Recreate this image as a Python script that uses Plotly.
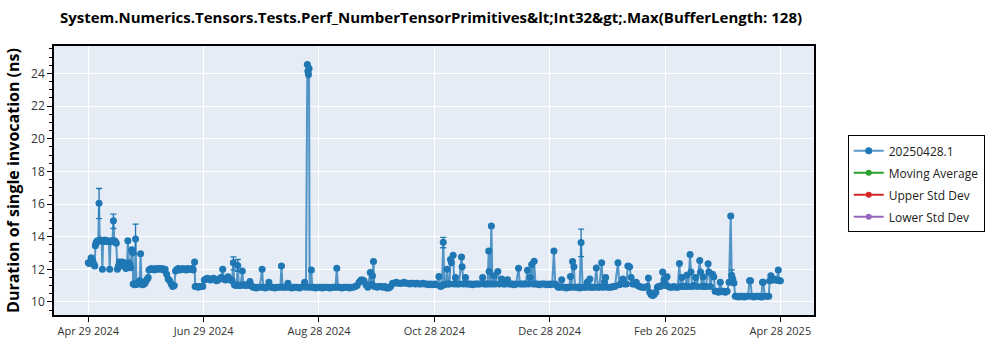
import pandas as pd
import plotly.graph_objects as go

TITLE = "System.Numerics.Tensors.Tests.Perf_NumberTensorPrimitives&amp;lt;Int32&amp;gt;.Max(BufferLength: 128)"
Y_TITLE = "Duration of single invocation (ns)"
START = "2024-04-29 10:00"

# day offsets from START and measured durations (ns)
days = [
    0, 0.5, 1, 1.5, 2, 2.5, 3, 3.4,
    3.7, 4.0, 4.4, 4.8, 5.2, 5.65, 6.0, 6.5, 7.0, 7.4, 7.8, 8.3, 8.8, 9.3, 9.8, 10.3, 10.8, 11.25,
    11.7, 12.2, 12.7, 13.2, 13.7, 14.2, 14.7, 15.3,
    15.8, 16.3, 16.8, 17.3, 17.8, 18.3, 18.8, 19.3, 19.8, 20.3, 20.8, 21.3, 21.8, 22.3, 22.8, 23.3, 23.6,
    24.0, 24.4, 24.85, 25.3, 25.8, 26.4, 27.0, 27.5, 28.0, 28.6, 29.2, 29.8, 30.4, 31.0, 31.5,
    31.9, 32.5, 33.2, 34.0, 34.8, 35.6, 36.4, 37.2, 38.0, 38.8, 39.6, 40.4,
    41.2, 42.0, 42.8, 43.6, 44.4, 45.2,
    45.9, 46.6, 47.4, 48.2, 49.0, 49.8, 50.6, 51.4, 52.2, 53.0, 53.8, 54.6, 55.2, 55.9,
    56.2, 57.0, 57.8, 58.6, 59.4, 60.2,
    61.0, 61.8, 62.6, 63.4, 64.2, 65.0, 65.8, 66.6, 67.4, 68.2, 69.0, 69.8, 70.7, 71.4, 72.2, 73.0, 73.5, 74.2, 75.0, 75.6,
    76.3, 76.8, 77.5, 78.0, 78.6, 79.2, 80.0, 81.0, 81.6, 82.4, 83.2, 84.0, 85.0, 85.8,
    86.6, 87.5, 88.4, 89.3, 90.2, 91.4, 92.0, 93.0, 94.0, 95.0, 96.0, 97.0, 98.0, 99.0, 100.0, 101.0, 101.6,
    102.2, 103.2, 104.2, 105.0, 106.0, 107.0, 108.0, 109.0, 110.0, 111.0, 112.0, 113.0, 113.8, 114.5,
    115.2, 115.5, 115.8, 116.1, 116.4, 117.3, 117.8, 118.6, 119.5, 120.4, 121.3, 122.2, 123.1, 124.0,
    125.0, 126.0, 127.0, 128.0, 129.0, 130.0, 130.7, 131.4, 132.4, 133.4, 134.4, 135.4, 136.4, 137.4,
    138.4, 139.4, 140.4, 141.4, 142.4, 143.4, 144.2, 145.0, 146.0, 147.0, 148.3, 149.0, 149.5, 150.0,
    150.4, 151.2, 152.0, 153.0, 154.0, 155.0, 156.0, 157.0, 158.0, 159.0,
    160, 161, 162, 163, 164, 165, 166, 167, 168, 169, 170, 171, 172, 173, 174, 175, 176, 177, 178, 179,
    180, 181, 182, 183, 184.4, 185.3, 186.0, 186.7, 187.3, 188.0, 188.7, 189.4, 190.0, 190.5, 191.0,
    191.9, 192.5, 193.1, 194.0, 195.0, 196.3, 196.6, 197.3, 198.4, 199.0, 200.0, 201.0, 202.0, 203.0,
    204.0, 205.0, 206.0, 207.4, 208.2, 209.0, 210.0, 210.6, 210.8, 211.3, 212.0, 212.6, 213.2, 214.0,
    215.4, 216.2, 217.5, 218.3, 219.3, 220.5, 221.3, 222.2, 223.1, 224.0, 225.0, 226.3, 227.0, 228.0,
    229.0, 230.0, 231.0, 231.7, 232.4, 233.2, 234.0, 234.5, 235.2, 236.2, 237.2, 238.2, 239.2, 240.2,
    241.2, 242.2, 243.2, 244.0, 244.9, 245.6, 246.4, 247.2, 248.0, 249.0, 249.8, 250.6, 251.4, 252.2,
    253.0, 253.6, 254.2, 254.7, 255.4, 256.0, 256.8, 257.6, 258.4, 259.2, 260.0, 260.8, 261.6, 262.4,
    263.2, 263.8, 264.6, 265.4, 266.2, 267.2, 268.0, 268.8, 270.0, 270.8, 271.5, 272.1, 273.0, 274.0,
    275.0, 276.0, 277.0, 278.6, 279.3, 280.0, 281.2, 282.0, 283.0, 283.8, 284.7, 285.5, 286.3, 287.2,
    288.2, 289.0, 290.0, 291.0, 292.0, 293.0, 294.0, 294.6, 295.3, 296.0, 296.8, 297.6, 298.5, 299.3,
    300.0, 300.8, 301.5, 302.1, 302.8, 303.5, 304.4, 305.2, 306.0, 307.0, 308.0, 309.0, 310.0, 310.9,
    311.5, 312.2, 313.0, 314.0, 314.8, 315.6, 316.5, 317.0, 317.6, 318.5, 319.4, 320.2, 321.6, 322.0,
    322.7, 323.4, 324.2, 325.0, 326.0, 326.4, 327.2, 328.3, 329.0, 329.7, 330.6, 331.5, 332.4, 333.2,
    334.0, 335.0, 336.0, 337.0, 337.9, 338.4, 339.0, 339.6, 340.3, 341.2, 342.1, 343.0, 344.0, 345.0,
    346.0, 347.0, 347.8, 348.3, 349.0, 350.0, 351.0, 352.0, 353.0, 354.0, 354.6, 355.0, 355.8, 356.8,
    357.9, 358.4, 359.0, 359.8, 360.6, 361.4, 362.2, 362.9, 363.4, 364.0,
]
values = [
    12.4, 12.35, 12.45, 12.7, 12.6, 12.45, 12.3, 12.2,
    13.45, 13.6, 13.7, 13.75, 13.7, 16.05, 13.75, 13.8, 13.75, 12.0, 13.75, 13.7, 13.8, 13.75, 13.7, 13.75, 13.7, 12.0,
    13.7, 13.75, 13.7, 14.97, 13.75, 13.7, 13.6, 12.0,
    12.2, 12.45, 12.4, 12.2, 12.45, 12.35, 12.4, 12.3, 12.05, 12.2, 13.75, 12.4, 12.3, 12.1, 13.2, 13.0, 11.1,
    11.1, 11.05, 13.85, 11.1, 11.1, 11.1, 11.3, 12.95, 11.2, 11.05, 11.1, 11.15, 11.3, 11.4, 11.5,
    11.95, 12.0, 12.05, 12.0, 11.95, 12.05, 12.0, 12.05, 12.0, 12.05, 11.95, 12.0,
    11.7, 11.4, 11.3, 11.1, 10.95, 11.0,
    11.9, 12.0, 12.05, 11.95, 12.0, 12.05, 12.0, 11.95, 12.05, 12.0, 12.0, 12.05, 11.95, 12.45,
    10.95, 10.95, 10.9, 10.95, 10.95, 10.95,
    11.35, 11.4, 11.45, 11.4, 11.35, 11.4, 11.45, 11.4, 11.3, 11.35, 11.4, 11.5, 12.0, 11.4, 11.35, 11.45, 11.55, 11.4, 11.35, 11.3,
    12.4, 11.05, 11.0, 11.05, 12.24, 11.0, 11.0, 11.9, 11.05, 11.0, 11.05, 11.0, 11.25, 11.0,
    10.9, 10.9, 10.85, 10.9, 10.9, 12.0, 10.9, 10.85, 10.9, 11.2, 10.9, 10.9, 10.85, 10.9, 10.9, 10.9, 12.2,
    10.9, 10.9, 10.9, 11.15, 10.9, 10.85, 10.9, 10.9, 10.9, 10.85, 10.9, 10.95, 11.2, 10.9,
    24.54, 24.14, 23.94, 24.3, 10.9, 11.95, 10.9, 10.9, 10.85, 10.9, 10.9, 10.9, 10.85, 10.9,
    10.9, 10.9, 10.85, 10.9, 10.9, 10.9, 12.06, 10.9, 10.9, 10.85, 10.9, 10.9, 10.9, 10.85,
    10.9, 10.9, 10.95, 11.0, 11.2, 11.35, 11.35, 11.3, 11.05, 10.9, 11.8, 11.1, 11.6, 12.48,
    10.95, 10.95, 10.9, 10.95, 10.95, 10.9, 10.95, 10.85, 10.85, 10.95,
    11.15, 11.15, 11.2, 11.15, 11.15, 11.15, 11.2, 11.15, 11.15, 11.1, 11.15, 11.15, 11.1, 11.15, 11.1, 11.1, 11.15, 11.1, 11.1, 11.05,
    11.1, 11.05, 11.1, 11.05, 11.56, 10.95, 11.0, 13.66, 11.05, 11.1, 12.0, 11.1, 11.1, 12.6, 12.4,
    12.86, 11.1, 11.5, 11.1, 11.1, 12.76, 12.16, 11.1, 11.5, 11.1, 11.1, 11.1, 11.05, 11.1,
    11.1, 11.1, 11.1, 11.5, 11.1, 11.1, 11.1, 13.12, 11.86, 11.1, 14.65, 11.1, 11.6, 11.1,
    11.86, 11.1, 11.4, 11.1, 11.1, 11.36, 11.1, 11.1, 11.1, 11.05, 11.1, 12.06, 11.1, 11.1,
    11.1, 11.1, 11.94, 11.1, 11.5, 12.3, 11.1, 12.5, 11.1, 11.1, 11.05, 11.1, 11.1, 11.1,
    11.05, 11.1, 11.05, 11.1, 13.12, 11.1, 11.0, 10.9, 10.9, 11.36, 10.9, 10.9, 10.85, 10.9,
    10.9, 11.56, 10.9, 12.48, 12.16, 10.9, 10.9, 10.9, 10.85, 13.64, 10.9, 10.9, 10.9, 11.2,
    10.9, 11.4, 10.9, 10.9, 10.9, 12.08, 10.9, 10.9, 12.4, 10.9, 11.2, 11.5, 10.9, 10.9,
    10.9, 10.95, 10.95, 12.4, 11.05, 11.1, 11.4, 11.1, 11.1, 12.2, 12.16, 11.5, 11.1, 11.1,
    11.2, 11.0, 10.95, 10.9, 10.9, 10.9, 10.95, 11.46, 10.6, 10.45, 10.4, 10.45, 10.6, 10.9,
    10.95, 10.95, 11.0, 11.84, 11.36, 11.0, 11.54, 10.95, 10.9, 10.9, 10.95, 10.9, 10.9, 12.36,
    10.95, 11.5, 10.95, 10.95, 11.64, 10.95, 12.9, 11.84, 10.95, 11.0, 11.5, 10.95, 12.54, 11.84,
    10.95, 11.54, 10.95, 10.95, 12.34, 11.84, 10.95, 11.7, 11.54, 10.65, 10.65, 10.6, 11.2, 10.65,
    10.65, 10.6, 10.65, 11.2, 15.26, 11.64, 11.4, 11.16, 10.35, 10.35, 10.3, 10.35, 10.35, 10.3,
    10.35, 10.35, 11.3, 11.3, 10.35, 10.3, 10.35, 10.35, 10.35, 10.3, 11.2, 11.2, 10.35, 10.35,
    10.35, 11.3, 11.6, 11.35, 11.4, 11.35, 11.35, 11.96, 11.3, 11.3,
]

# points that carry a standard-deviation error bar: day, plus, minus
err_days = [5.65, 13.2, 24.85, 76.3, 78.6, 186.7, 259.2, 338.4]
err_plus = [0.9, 0.41, 0.92, 0.36, 0.36, 0.3, 0.82, 0.32]
err_minus = [0.95, 0.47, 0.9, 0.44, 0.36, 0.34, 0.86, 0.32]

tick_vals = ["2024-04-29 10:00", "2024-06-29 02:00", "2024-08-28 18:00", "2024-10-28 10:00",
             "2024-12-28 02:00", "2025-02-26 18:00", "2025-04-28 10:00"]
tick_text = ["Apr 29 2024", "Jun 29 2024", "Aug 28 2024", "Oct 28 2024",
             "Dec 28 2024", "Feb 26 2025", "Apr 28 2025"]

legend_names = ["20250428.1", "Moving Average", "Upper Std Dev", "Lower Std Dev"]
legend_colors = ["#1f77b4", "#2ca02c", "#d62728", "#9467bd"]

start = pd.Timestamp(START)
x = [start + pd.Timedelta(days=d) for d in days]
ep = [None] * len(days)
em = [None] * len(days)
for d, p, m in zip(err_days, err_plus, err_minus):
    i = days.index(d)
    ep[i] = p
    em[i] = m

FONT = "Segoe UI, Open Sans, sans-serif"

fig = go.Figure()
fig.add_trace(go.Scatter(
    x=x, y=values, mode="lines+markers", name=legend_names[0], legendgroup="a",
    line=dict(color="rgba(31,119,180,0.75)", width=2),
    marker=dict(color=legend_colors[0], size=7),
    error_y=dict(type="data", array=ep, arrayminus=em, symmetric=False,
                 color=legend_colors[0], thickness=1.3, width=3),
))
for k, (n, c) in enumerate(zip(legend_names[1:], legend_colors[1:])):
    fig.add_trace(go.Scatter(x=[None], y=[None], mode="lines+markers", name=n,
                             legendgroup="g%d" % k,
                             line=dict(color=c, width=2), marker=dict(color=c, size=6)))

L, R, T, B = 48, 186, 46, 30
W, H = 1000, 350
pw, ph = W - L - R, H - T - B

def px_to_paper(px, py):
    return (px - L) / pw, (H - B - py) / ph

lx0, ly0 = px_to_paper(848, 137)
sx0, sy0 = px_to_paper(852, 141)
sx1, sy1 = px_to_paper(982, 234)

fig.update_layout(
    width=W, height=H,
    margin=dict(l=L, r=R, t=T, b=B),
    paper_bgcolor="white", plot_bgcolor="#E5ECF6",
    font=dict(family=FONT, size=12, color="#333"),
    title=dict(text="<b>" + TITLE + "</b>", x=(L + pw / 2) / W, xanchor="center",
               y=1 - 18 / H, yanchor="middle", font=dict(size=15, color="black")),
    showlegend=True,
    legend=dict(x=lx0, y=ly0, xanchor="left", yanchor="top", bgcolor="white",
                bordercolor="black", borderwidth=1, tracegroupgap=3,
                font=dict(size=12, color="#222")),
    shapes=[dict(type="rect", xref="paper", yref="paper", x0=sx0, y0=sy0, x1=sx1, y1=sy1,
                 fillcolor="#aaa", line=dict(width=0), layer="below")],
)
fig.update_xaxes(
    type="date", range=["2024-04-11 08:48", "2025-05-16 02:48"],
    tickmode="array", tickvals=tick_vals, ticktext=tick_text,
    showgrid=True, gridcolor="white", gridwidth=1,
    showline=True, linecolor="black", linewidth=1.5, mirror=True,
    ticks="outside", ticklen=5, tickcolor="black",
    tickfont=dict(size=11, color="#333"),
)
fig.update_yaxes(
    range=[9.2, 25.68], tick0=0, dtick=2,
    showgrid=True, gridcolor="white", gridwidth=1, zeroline=False,
    showline=True, linecolor="black", linewidth=1.5, mirror=True,
    ticks="outside", ticklen=5, tickcolor="black",
    minor=dict(dtick=0.5, ticks="outside", ticklen=3, tickcolor="black", showgrid=False),
    tickfont=dict(size=12, color="#333"),
    title=dict(text="<b>" + Y_TITLE + "</b>", font=dict(size=16, color="black"), standoff=8),
)
fig.write_html("out.html")
